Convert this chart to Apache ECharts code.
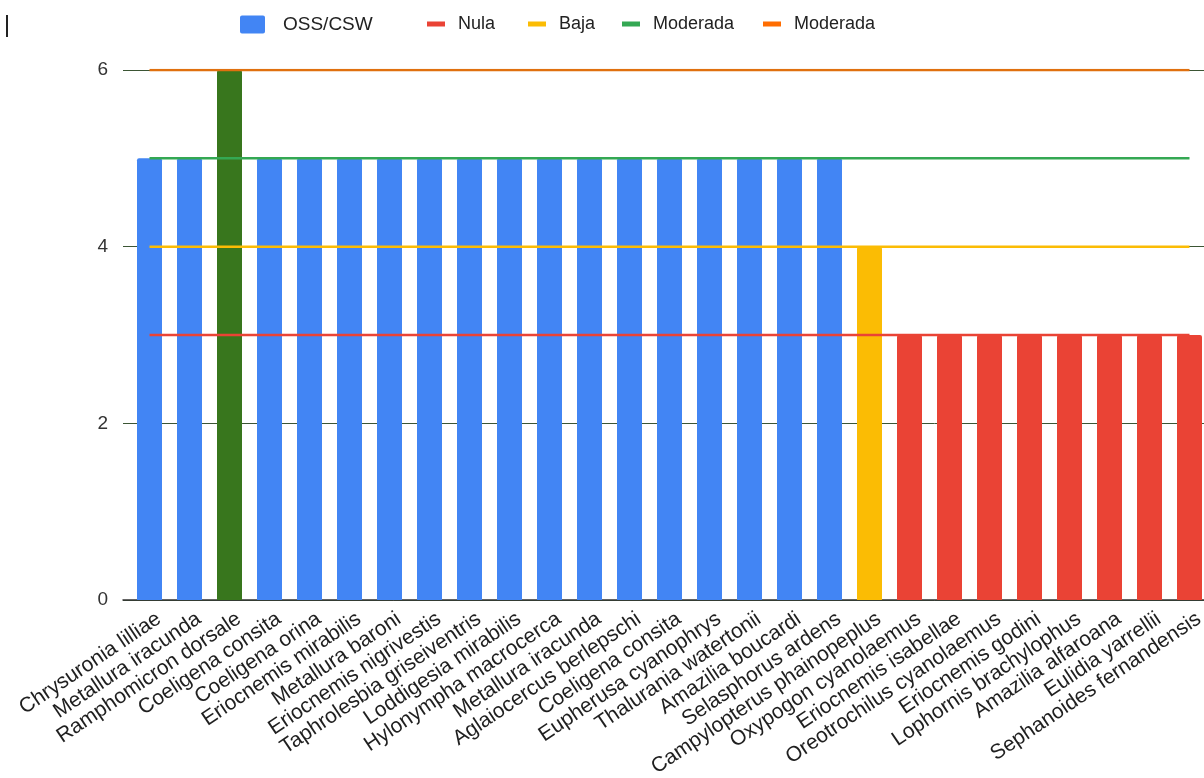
<!DOCTYPE html>
<html><head><meta charset="utf-8">
<script src="https://cdn.jsdelivr.net/npm/echarts@6/dist/echarts.min.js"></script>
<style>html,body{margin:0;padding:0;background:#fff}#c{width:1204px;height:778px}</style>
</head><body><div id="c"></div>
<script>
const categories = [
  'Chrysuronia lilliae','Metallura iracunda','Ramphomicron dorsale','Coeligena consita',
  'Coeligena orina','Eriocnemis mirabilis','Metallura baroni','Eriocnemis nigrivestis',
  'Taphrolesbia griseiventris','Loddigesia mirabilis','Hylonympha macrocerca','Metallura iracunda',
  'Aglaiocercus berlepschi','Coeligena consita','Eupherusa cyanophrys','Thalurania watertonii',
  'Amazilia boucardi','Selasphorus ardens','Campylopterus phainopeplus','Oxypogon cyanolaemus',
  'Eriocnemis isabellae','Oreotrochilus cyanolaemus','Eriocnemis godini','Lophornis brachylophus',
  'Amazilia alfaroana','Eulidia yarrellii','Sephanoides fernandensis'
];
const ossCsw    = [5,5,6,5,5,5,5,5,5,5,5,5,5,5,5,5,5,5,4,3,3,3,3,3,3,3,3];
const nula      = [3,3,3,3,3,3,3,3,3,3,3,3,3,3,3,3,3,3,3,3,3,3,3,3,3,3,3];
const baja      = [4,4,4,4,4,4,4,4,4,4,4,4,4,4,4,4,4,4,4,4,4,4,4,4,4,4,4];
const moderada  = [5,5,5,5,5,5,5,5,5,5,5,5,5,5,5,5,5,5,5,5,5,5,5,5,5,5,5];
const moderada2 = [6,6,6,6,6,6,6,6,6,6,6,6,6,6,6,6,6,6,6,6,6,6,6,6,6,6,6];
const yTicks = [0,2,4,6];
const legendNames = ['OSS/CSW','Nula','Baja','Moderada','Moderada (2)'];

const FONT = '"Liberation Sans", Arial, sans-serif';
const levelColors = {6:'#38761D',5:'#4285F4',4:'#FBBC04',3:'#EA4335'};
const yMin = yTicks[0], yMax = yTicks[yTicks.length-1], yInt = yTicks[1]-yTicks[0];

const chart = echarts.init(document.getElementById('c'), null, {renderer:'canvas'});

const gridBase = {top:70, height:530, containLabel:false, outerBoundsMode:'none'};
const rectIcon = 'path://M2,0H23Q25,0 25,2V16Q25,18 23,18H2Q0,18 0,16V2Q0,0 2,0Z M37.9,0H38V0.1H37.9Z';
const lineIcon = 'path://M0,0H18V5H0Z M25.9,0H26V0.1H25.9Z';
function lg(name, left, icon, w, h, fs) {
  return {
    data:[{name:name, icon:icon}], left:left, top:15, padding:0,
    itemWidth:w, itemHeight:h, selectedMode:false,
    itemStyle:{borderWidth:0},
    textStyle:{fontFamily:FONT, fontSize:fs, color:'#222'},
    formatter: n => n === 'Moderada (2)' ? 'Moderada' : n
  };
}

const option = {
  backgroundColor:'#fff',
  animation:false,
  legend:[
    lg(legendNames[0], 240, rectIcon, 38, 18, 19),
    lg(legendNames[1], 427, lineIcon, 26, 5, 18),
    lg(legendNames[2], 528, lineIcon, 26, 5, 18),
    lg(legendNames[3], 622, lineIcon, 26, 5, 18),
    lg(legendNames[4], 763, lineIcon, 26, 5, 18)
  ],
  graphic:[{type:'line', shape:{x1:7,y1:15,x2:7,y2:37}, style:{stroke:'#222', lineWidth:2}}],
  grid:[
    Object.assign({left:129.5, width:1080}, gridBase),
    Object.assign({left:123, width:1093}, gridBase),
    Object.assign({left:139, width:1080}, gridBase)
  ],
  xAxis:[
    {type:'category', gridIndex:0, data:categories, boundaryGap:true,
     axisLine:{show:false}, axisTick:{show:false}, axisLabel:{show:false}, splitLine:{show:false}},
    {type:'value', gridIndex:1, min:0, max:1, position:'bottom',
     axisLine:{show:true, onZero:false, lineStyle:{color:'#333', width:1.5}},
     axisTick:{show:false}, axisLabel:{show:false}, splitLine:{show:false}},
    {type:'category', gridIndex:2, data:categories, boundaryGap:true,
     axisLine:{show:false}, axisTick:{show:false}, splitLine:{show:false},
     axisLabel:{show:true, interval:0, rotate:34, margin:17, fontFamily:FONT, fontSize:21, color:'#1f1f1f', hideOverlap:false}}
  ],
  yAxis:[
    {type:'value', gridIndex:0, min:yMin, max:yMax, interval:yInt, show:false, splitLine:{show:false}},
    {type:'value', gridIndex:1, min:yMin, max:yMax, interval:yInt,
     axisLine:{show:false}, axisTick:{show:false},
     axisLabel:{margin:15, fontFamily:FONT, fontSize:19, color:'#333'},
     splitLine:{show:true, lineStyle:{color:'#3b5534', width:1}}},
    {type:'value', gridIndex:2, min:yMin, max:yMax, interval:yInt, show:false, splitLine:{show:false}}
  ],
  series:[
    {name:legendNames[0], type:'bar', xAxisIndex:0, yAxisIndex:0, barWidth:25, color:'#4285F4',
     itemStyle:{borderRadius:[2,2,0,0]},
     data: ossCsw.map(v => ({value:v, itemStyle:{color:levelColors[v]}})), z:2},
    {name:legendNames[1], type:'line', xAxisIndex:0, yAxisIndex:0, data:nula, color:'#EA4335',
     symbol:'none', lineStyle:{width:2.5, color:'#EA4335'}, z:3},
    {name:legendNames[2], type:'line', xAxisIndex:0, yAxisIndex:0, data:baja, color:'#FBBC04',
     symbol:'none', lineStyle:{width:2.5, color:'#FBBC04'}, z:3},
    {name:legendNames[3], type:'line', xAxisIndex:0, yAxisIndex:0, data:moderada, color:'#34A853',
     symbol:'none', lineStyle:{width:2.5, color:'#34A853'}, z:3},
    {name:legendNames[4], type:'line', xAxisIndex:0, yAxisIndex:0, data:moderada2, color:'#FF6D01',
     symbol:'none', lineStyle:{width:2.5, color:'#E0700F'}, z:3}
  ]
};
chart.setOption(option);
</script>
</body></html>
